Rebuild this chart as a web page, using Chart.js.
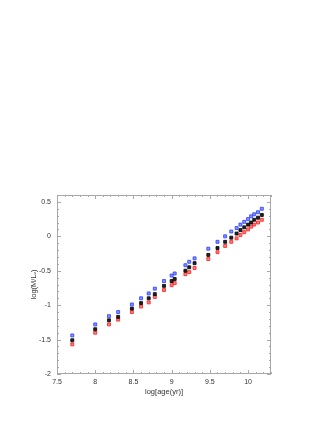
<!DOCTYPE html>
<html><head><meta charset="utf-8">
<script src="https://cdn.jsdelivr.net/npm/chart.js@4/dist/chart.umd.min.js"></script>
<style>html,body{margin:0;padding:0;background:#fff}#wrap{width:327px;height:423px}</style>
</head><body><div id="wrap"><canvas id="c" width="327" height="423"></canvas></div>
<script>
const logAge  = [7.7, 8.0, 8.18, 8.3, 8.48, 8.6, 8.7, 8.78, 8.9, 9.0, 9.04, 9.18, 9.23, 9.3, 9.48, 9.6, 9.7, 9.78, 9.85, 9.9, 9.95, 10.0, 10.04, 10.08, 10.13, 10.18];
const blueML  = [-1.44, -1.28, -1.16, -1.10, -0.99, -0.90, -0.83, -0.76, -0.65, -0.57, -0.54, -0.42, -0.37, -0.32, -0.18, -0.08, 0.00, 0.07, 0.12, 0.17, 0.21, 0.25, 0.29, 0.32, 0.35, 0.40];
const blackML = [-1.51, -1.35, -1.22, -1.17, -1.05, -0.97, -0.90, -0.84, -0.72, -0.65, -0.62, -0.50, -0.45, -0.39, -0.27, -0.17, -0.08, -0.02, 0.04, 0.09, 0.13, 0.17, 0.20, 0.24, 0.27, 0.31];
const redML   = [-1.57, -1.40, -1.28, -1.21, -1.10, -1.02, -0.96, -0.88, -0.78, -0.71, -0.68, -0.55, -0.52, -0.46, -0.33, -0.23, -0.14, -0.08, -0.03, 0.02, 0.06, 0.10, 0.14, 0.17, 0.20, 0.24];
const xTickValues = [7.5, 8, 8.5, 9, 9.5, 10];
const yTickValues = [-2, -1.5, -1, -0.5, 0, 0.5];
const xTitle = 'log[age(yr)]';
const yTitle = 'log(M/L\u1D65)';

const pts = ys => logAge.map((x, i) => ({x: x, y: ys[i]}));
const frameColor = '#a8a8a8';

const framePlugin = {
  id: 'frame',
  afterDraw(chart) {
    const {ctx, chartArea: a, scales: {x, y}} = chart;
    ctx.save();
    ctx.strokeStyle = frameColor;
    ctx.lineWidth = 1;
    ctx.strokeRect(a.left + 0.5, a.top + 0.5, a.right - a.left - 1, a.bottom - a.top - 1);
    ctx.beginPath();
    for (let i = 75; i <= 103; i++) {
      const v = i / 10;
      const px = Math.round(x.getPixelForValue(v)) + 0.5;
      const L = (i % 5 === 0) ? 4 : 2;
      ctx.moveTo(px, a.bottom); ctx.lineTo(px, a.bottom - L);
      ctx.moveTo(px, a.top); ctx.lineTo(px, a.top + L);
    }
    for (let i = -20; i <= 6; i++) {
      const v = i / 10;
      const py = Math.round(y.getPixelForValue(v)) + 0.5;
      const L = (i % 5 === 0) ? 4 : 2;
      ctx.moveTo(a.left, py); ctx.lineTo(a.left + L, py);
      ctx.moveTo(a.right, py); ctx.lineTo(a.right - L, py);
    }
    ctx.stroke();
    ctx.restore();
  }
};

const tickFont = {family: 'Liberation Sans', size: 7};
const titleFont = {family: 'Liberation Sans', size: 7.5};
const fmt = v => String(v);

new Chart(document.getElementById('c'), {
  type: 'scatter',
  data: {
    datasets: [
      {label: 'blue', data: pts(blueML), pointStyle: 'rect', pointRadius: 2.1, backgroundColor: '#8592ff', borderColor: '#2b3dff', borderWidth: 0.8},
      {label: 'black', data: pts(blackML), pointStyle: 'rect', pointRadius: 2.1, backgroundColor: '#222222', borderColor: '#000000', borderWidth: 0.8},
      {label: 'red', data: pts(redML), pointStyle: 'rect', pointRadius: 2.1, backgroundColor: '#ff8080', borderColor: '#ff1a1a', borderWidth: 0.8}
    ]
  },
  options: {
    responsive: false,
    animation: false,
    devicePixelRatio: 1,
    layout: {padding: {top: 195, right: 56, bottom: 0, left: 0}},
    plugins: {legend: {display: false}, tooltip: {enabled: false}},
    scales: {
      x: {
        type: 'linear', min: 7.5, max: 10.3,
        afterBuildTicks: s => { s.ticks = xTickValues.map(v => ({value: v})); },
        afterFit: s => { s.height = 49; },
        grid: {display: false, drawTicks: false},
        border: {display: false},
        ticks: {padding: 4, color: '#333', font: tickFont, maxRotation: 0, autoSkip: false, callback: fmt},
        title: {display: true, text: xTitle, color: '#333', font: titleFont, padding: {top: 0, bottom: 27}}
      },
      y: {
        type: 'linear', min: -2, max: 0.6,
        afterBuildTicks: s => { s.ticks = yTickValues.map(v => ({value: v})); },
        afterFit: s => { s.width = 57; },
        grid: {display: false, drawTicks: false},
        border: {display: false},
        ticks: {padding: 6, color: '#333', font: tickFont, autoSkip: false, callback: fmt},
        title: {display: true, text: yTitle, color: '#333', font: titleFont, padding: {top: 29, bottom: 0}}
      }
    }
  },
  plugins: [framePlugin]
});
</script>
</body></html>
